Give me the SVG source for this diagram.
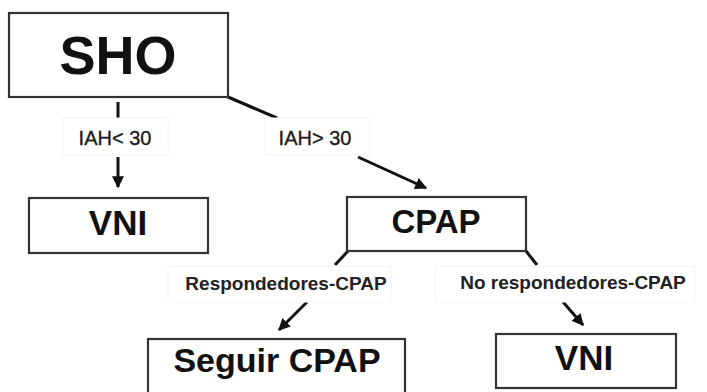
<svg xmlns="http://www.w3.org/2000/svg" width="707" height="392" viewBox="0 0 707 392">
<style>
.box{fill:#fff;stroke:#333;stroke-width:2.2}
.lbl{fill:#fff;stroke:#f4f4f4;stroke-width:1}
.big{font-family:"Liberation Sans",Arial,sans-serif;font-weight:bold;fill:#111;text-anchor:middle}
.t1{font-family:"Liberation Sans",Arial,sans-serif;font-size:20px;fill:#1a1a1a;stroke:#1a1a1a;stroke-width:0.3;text-anchor:middle}
.t2{font-family:"Liberation Sans",Arial,sans-serif;font-size:19px;font-weight:bold;fill:#222;text-anchor:middle}
.ln{stroke:#111;stroke-width:3;fill:none}
</style>
<defs>
<marker id="ah" viewBox="0 0 10 10" refX="9" refY="5" markerWidth="4" markerHeight="4" orient="auto" markerUnits="strokeWidth">
<path d="M0,0 L10,5 L0,10 z" fill="#111"/>
</marker>
</defs>
<rect width="707" height="392" fill="#fff"/>
<g id="connectors">
<line class="ln" x1="118" y1="102" x2="118" y2="118"/>
<line class="ln" x1="118" y1="157" x2="118" y2="187" marker-end="url(#ah)"/>
<line class="ln" x1="228" y1="97" x2="277" y2="118"/>
<line class="ln" x1="358" y1="157" x2="426" y2="188" marker-end="url(#ah)"/>
<line class="ln" x1="348" y1="251" x2="335" y2="265"/>
<line class="ln" x1="526" y1="251" x2="537" y2="265"/>
<line class="ln" x1="307" y1="302" x2="279" y2="330" marker-end="url(#ah)"/>
<line class="ln" x1="563" y1="302" x2="583" y2="325" marker-end="url(#ah)"/>
</g>
<g id="label-iah-lt">
<rect class="lbl" x="63" y="118" width="105" height="37"/>
<text class="t1" x="115" y="145">IAH&lt; 30</text>
</g>
<g id="label-iah-gt">
<rect class="lbl" x="265" y="118" width="105" height="37"/>
<text class="t1" x="315" y="145">IAH&gt; 30</text>
</g>
<g id="label-resp">
<rect class="lbl" x="168" y="266" width="223" height="36"/>
<text class="t2" x="286" y="290">Respondedores-CPAP</text>
</g>
<g id="label-noresp">
<rect class="lbl" x="435" y="266" width="260" height="36"/>
<text class="t2" x="573" y="289">No respondedores-CPAP</text>
</g>
<g id="node-sho">
<rect class="box" x="9" y="13" width="219" height="84"/>
<text class="big" x="118" y="74" font-size="54">SHO</text>
</g>
<g id="node-vni-left">
<rect class="box" x="29" y="198" width="179" height="55"/>
<text class="big" x="118" y="235" font-size="35">VNI</text>
</g>
<g id="node-cpap">
<rect class="box" x="347" y="197" width="179" height="54"/>
<text class="big" x="436" y="233" font-size="33">CPAP</text>
</g>
<g id="node-seguir">
<rect class="box" x="148" y="339" width="257" height="60"/>
<text class="big" x="277" y="372" font-size="34">Seguir CPAP</text>
</g>
<g id="node-vni-right">
<rect class="box" x="496" y="334" width="180" height="54"/>
<text class="big" x="584" y="370" font-size="35">VNI</text>
</g>
</svg>
